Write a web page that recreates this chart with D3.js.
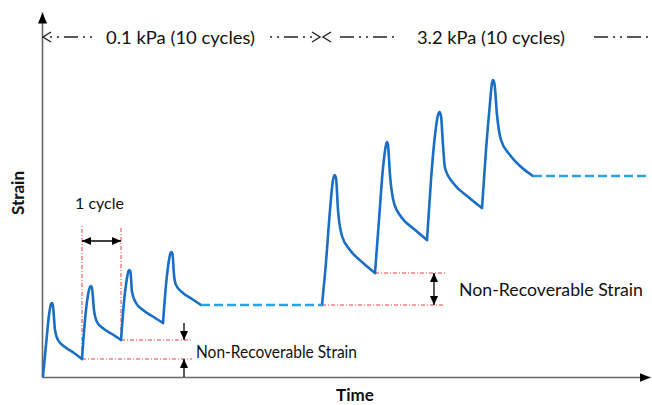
<!DOCTYPE html>
<html><head><meta charset="utf-8">
<script src="https://cdn.jsdelivr.net/npm/d3@7"></script>
<style>body{margin:0;background:#fff} text{font-family:Lato,"Open Sans",sans-serif;fill:#111}</style>
</head><body><svg id="c" width="652" height="405"></svg>
<script>
// Schematic MSCR data: [time, strain] in arbitrary units
const lowStressCycles = [
  [[1,1],[4,32],[7,62],[9,73],[10,74],[11,71],[13,47],[16,37],[23,30],[32,24],[40,18]],
  [[40,18],[43,57],[46,82],[48,90],[49,91],[50,89],[52,67],[55,55],[62,48],[70,43],[79,37]],
  [[79,37],[82,75],[85,99],[86.5,106],[87.5,107],[88.5,105],[90,85],[94,74],[101,67],[110,61],[121,54]],
  [[121,54],[124,92],[127,117],[128.5,124],[129.5,125],[130.5,123],[132,102],[134,92],[141,84],[150,78],[159,72]]
];
const lowRest = [[159,72],[280,72]];
const highStressCycles = [
  [[280,72],[284,115],[288,167],[291,197],[292.5,202],[294,199],[296,167],[300,141],[308,127],[320,115],[333,104]],
  [[333,104],[337,157],[341,209],[344,232],[345,235],[346,232],[348,202],[352,174],[360,159],[372,148],[385,137]],
  [[385,137],[389,197],[393,242],[396,262],[397.5,265],[399,261],[401,232],[403,209],[412,193],[425,181],[440,169]],
  [[440,169],[444,227],[448,274],[450,294],[451,297],[452.5,293],[455,262],[459,237],[468,222],[478,211],[491,201]]
];
const highRest = [[491,201],[608,201]];
const phaseLabels = ["0.1 kPa (10 cycles)", "3.2 kPa (10 cycles)"];
const phaseSpans = [[0,280],[280,608]];
const xLabel = "Time", yLabel = "Strain";
const cycleLabel = "1 cycle";
const nrLabel = "Non-Recoverable Strain";

const svg = d3.select("#c");
const x = d3.scaleLinear().domain([0,608]).range([42,650]);
const y = d3.scaleLinear().domain([0,365]).range([377,12]);

const defs = svg.append("defs");
function tri(id, w, h){
  defs.append("marker").attr("id",id).attr("viewBox",`0 0 ${w} ${h}`)
    .attr("refX",w).attr("refY",h/2).attr("markerWidth",w).attr("markerHeight",h)
    .attr("markerUnits","userSpaceOnUse").attr("orient","auto-start-reverse")
    .append("path").attr("d",`M0,0L${w},${h/2}L0,${h}Z`).attr("fill","#000");
}
tri("axh",11,9); tri("sm",9,8);

// axes
const gx = svg.append("g").attr("transform",`translate(0,${y(0)})`)
  .call(d3.axisBottom(x).tickValues([]).tickSizeOuter(0));
const gy = svg.append("g").attr("transform",`translate(${x(0)},0)`)
  .call(d3.axisLeft(y).tickValues([]).tickSizeOuter(0));
[gx,gy].forEach(g=>g.select(".domain").attr("stroke","#666").attr("stroke-width",1.6).attr("marker-end","url(#axh)"));

// red reference lines
const red = "#f03c3c";
function redLine(x1,y1,x2,y2){
  svg.append("line").attr("x1",x(x1)).attr("y1",y(y1)).attr("x2",x(x2)).attr("y2",y(y2))
    .attr("stroke",red).attr("stroke-width",1).attr("stroke-dasharray","4,2,1,2");
}
const c2 = lowStressCycles[1][0], c3 = lowStressCycles[2][0];
redLine(c2[0],c2[1],c2[0],151); redLine(c3[0],c3[1],c3[0],151);
redLine(c2[0],c2[1],150,c2[1]); redLine(c3[0],c3[1],150,c3[1]);
const h1 = highStressCycles[0][0], h2 = highStressCycles[1][0];
redLine(h1[0],h1[1],403,h1[1]); redLine(h2[0],h2[1],403,h2[1]);

// strain curve
const line = d3.line().x(d=>x(d[0])).y(d=>y(d[1])).curve(d3.curveMonotoneX);
const blue = "#1a6ec4", lblue = "#2aa2e6";
lowStressCycles.concat(highStressCycles).forEach(c=>{
  svg.append("path").attr("d",line(c)).attr("fill","none").attr("stroke",blue)
    .attr("stroke-width",2.6).attr("stroke-linejoin","round").attr("stroke-linecap","round");
});
[lowRest,highRest].forEach(r=>{
  svg.append("path").attr("d",d3.line().x(d=>x(d[0])).y(d=>y(d[1]))(r)).attr("fill","none")
    .attr("stroke",lblue).attr("stroke-width",2.6).attr("stroke-dasharray","9,4");
});

// arrows
function arrow(x1,y1,x2,y2,both){
  const l = svg.append("line").attr("x1",x1).attr("y1",y1).attr("x2",x2).attr("y2",y2)
    .attr("stroke","#000").attr("stroke-width",1.3).attr("marker-end","url(#sm)");
  if(both) l.attr("marker-start","url(#sm)");
}
arrow(x(c2[0]), 241, x(c3[0]), 241, true);
arrow(x(142), 323, x(142), y(c3[1]), false);
arrow(x(142), y(0), x(142), y(c2[1]), false);
arrow(x(392), y(h2[1]), x(392), y(h1[1]), true);

// top phase annotations
const ty = 37;
function dashSeg(a,b,off){
  svg.append("line").attr("x1",a).attr("x2",b).attr("y1",ty).attr("y2",ty)
    .attr("stroke","#222").attr("stroke-width",1.4).attr("stroke-dasharray","2,5,2,5,14,5").attr("stroke-dashoffset",off);
}
function chevron(tipX, dir){
  svg.append("path").attr("d",`M${tipX+dir*8},${ty-5}L${tipX},${ty}L${tipX+dir*8},${ty+5}`)
    .attr("fill","none").attr("stroke","#222").attr("stroke-width",1.4);
}
chevron(x(phaseSpans[0][0])+1, 1); chevron(x(phaseSpans[0][1])-2, -1);
chevron(x(phaseSpans[1][0])+1, 1);
dashSeg(49, 95, -1); dashSeg(270, 314, 0); dashSeg(336, 395, 10); dashSeg(590, 648, 10);
svg.append("text").attr("x",106).attr("y",44).attr("font-size",18).attr("textLength",149).attr("lengthAdjust","spacingAndGlyphs").text(phaseLabels[0]);
svg.append("text").attr("x",417).attr("y",44).attr("font-size",18).attr("textLength",148).attr("lengthAdjust","spacingAndGlyphs").text(phaseLabels[1]);

// labels
svg.append("text").attr("x",75).attr("y",209).attr("font-size",15).attr("textLength",49).attr("lengthAdjust","spacingAndGlyphs").text(cycleLabel);
svg.append("text").attr("x",196).attr("y",358).attr("font-size",17).attr("textLength",161).attr("lengthAdjust","spacingAndGlyphs").text(nrLabel);
svg.append("text").attr("x",459).attr("y",296).attr("font-size",18).attr("textLength",184).attr("lengthAdjust","spacingAndGlyphs").text(nrLabel);
svg.append("text").attr("x",355).attr("y",401).attr("text-anchor","middle").attr("font-size",17).attr("font-weight","bold").text(xLabel);
svg.append("text").attr("transform","translate(24,193) rotate(-90)").attr("text-anchor","middle").attr("font-size",17).attr("font-weight","bold").text(yLabel);
</script></body></html>
